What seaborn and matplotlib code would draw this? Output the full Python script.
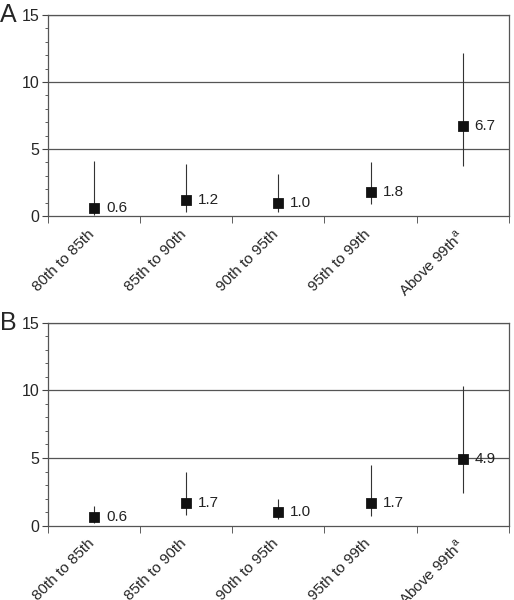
import numpy as np
import pandas as pd
import matplotlib
matplotlib.use("Agg")
import matplotlib.pyplot as plt
import matplotlib.transforms as mtransforms
import seaborn as sns
from matplotlib.ticker import MultipleLocator, FixedLocator

categories = ["80th to 85th", "85th to 90th", "90th to 95th", "95th to 99th",
              "Above 99th$^{\\mathrm{a}}$"]

# Panel A
a_est = [0.6, 1.2, 1.0, 1.8, 6.7]
a_lo = [0.1, 0.3, 0.3, 0.9, 3.7]
a_hi = [4.1, 3.9, 3.1, 4.0, 12.2]

# Panel B
b_est = [0.6, 1.7, 1.0, 1.7, 4.9]
b_lo = [0.2, 0.8, 0.5, 0.7, 2.4]
b_hi = [1.45, 3.95, 2.0, 4.5, 10.3]

sns.set_style("white")
plt.rcParams['font.family'] = ['Liberation Sans', 'DejaVu Sans']
plt.rcParams['mathtext.fontset'] = 'custom'
plt.rcParams['mathtext.rm'] = 'Liberation Sans'

fig = plt.figure(figsize=(5.14, 6.0), dpi=100)
ax_a = fig.add_axes([0.093, 0.640, 0.897, 0.335])
ax_b = fig.add_axes([0.093, 0.124, 0.897, 0.338])


def draw_panel(ax, est, lo, hi, letter):
    df = pd.DataFrame({'group': categories, 'value': est, 'lo': lo, 'hi': hi})
    x = np.arange(len(df))
    for yv in [5, 10, 15]:
        ax.axhline(yv, color='#555555', lw=0.9, zorder=0)
    ax.vlines(x, df['lo'], df['hi'], color='#333333', lw=0.8, zorder=2)
    sns.scatterplot(data=df, x='group', y='value', marker='s', s=50,
                    color='#111111', edgecolor='#111111', ax=ax, zorder=3)
    for xi, v in zip(x, est):
        ax.text(xi + 0.13, v, f"{v:.1f}", va='center', ha='left', fontsize=11,
                color='#222222')
    ax.set_xlim(-0.5, len(df) - 0.5)
    ax.set_ylim(0, 15)
    ax.set_xlabel('')
    ax.set_ylabel('')
    ax.set_yticks([0, 5, 10, 15])
    ax.yaxis.set_minor_locator(MultipleLocator(1))
    ax.xaxis.set_minor_locator(FixedLocator(np.arange(-0.5, len(df), 1.0)))
    ax.tick_params(axis='x', which='major', length=0, pad=4)
    ax.tick_params(axis='x', which='minor', length=5, direction='out',
                   color='#444444', bottom=True)
    ax.tick_params(axis='y', which='major', length=4, direction='out',
                   color='#444444', labelsize=11.5, pad=2, left=True)
    ax.tick_params(axis='y', which='minor', length=2, direction='out',
                   color='#444444', left=True)
    ax.set_xticks(x)
    ax.set_xticklabels(categories, rotation=45, ha='right',
                       rotation_mode='anchor', fontsize=11)
    shift = mtransforms.ScaledTranslation(-5 / 72, -4 / 72, fig.dpi_scale_trans)
    for lab in ax.get_xticklabels():
        lab.set_transform(lab.get_transform() + shift)
    for s in ax.spines.values():
        s.set_color('#555555')
        s.set_linewidth(0.9)
    ax.text(-0.103, 1.0, letter, transform=ax.transAxes, fontsize=18,
            ha='left', va='center')


draw_panel(ax_a, a_est, a_lo, a_hi, 'A')
draw_panel(ax_b, b_est, b_lo, b_hi, 'B')

fig.savefig('out.png', dpi=100)
